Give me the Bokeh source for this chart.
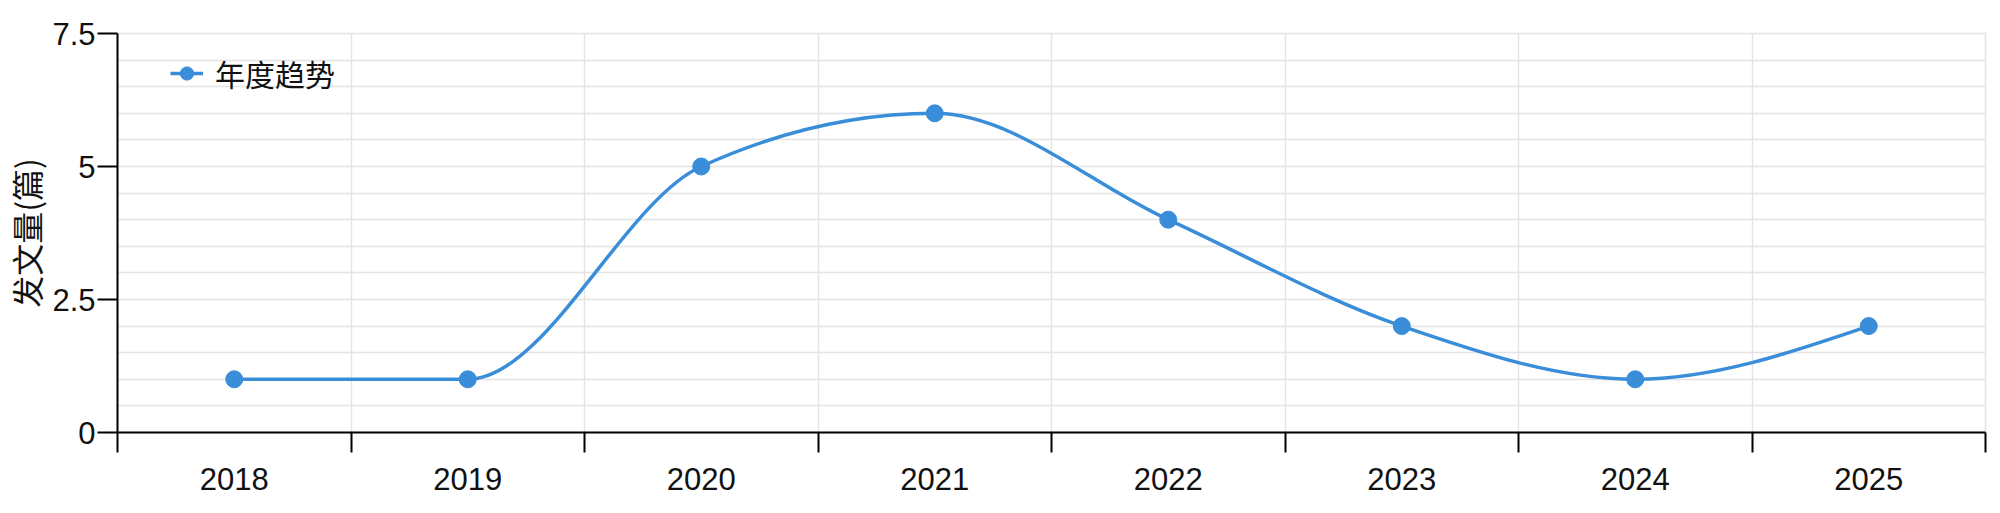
from bokeh.plotting import figure
from bokeh.models import Range1d, FixedTicker, Legend, LegendItem
from bokeh.embed import file_html
from bokeh.resources import INLINE
import numpy as np

# ---- data ----
years = ["2018", "2019", "2020", "2021", "2022", "2023", "2024", "2025"]
counts = [1, 1, 5, 6, 4, 2, 1, 2]
y_ticks = [0, 2.5, 5, 7.5]
series_name = "年度趋势"
y_label = "发文量(篇)"

LINE_COLOR = "#3a8dd8"
GRID_COLOR = "#e4e4e4"

n = len(years)
xs = np.arange(n) + 0.5
ys = np.array(counts, dtype=float)

# monotone-x cubic (as d3.curveMonotoneX) -> bezier segments
def sign(v):
    return -1.0 if v < 0 else 1.0

t = np.zeros(n)
for i in range(1, n - 1):
    h0 = xs[i] - xs[i - 1]
    h1 = xs[i + 1] - xs[i]
    s0 = (ys[i] - ys[i - 1]) / h0
    s1 = (ys[i + 1] - ys[i]) / h1
    pp = (s0 * h1 + s1 * h0) / (h0 + h1)
    t[i] = (sign(s0) + sign(s1)) * min(abs(s0), abs(s1), 0.5 * abs(pp))
h = xs[1] - xs[0]
t[0] = (3 * (ys[1] - ys[0]) / h - t[1]) / 2
h = xs[-1] - xs[-2]
t[-1] = (3 * (ys[-1] - ys[-2]) / h - t[-2]) / 2

x0 = xs[:-1]; x1 = xs[1:]; y0 = ys[:-1]; y1 = ys[1:]
dx = (x1 - x0) / 3
cx0 = x0 + dx; cy0 = y0 + dx * t[:-1]
cx1 = x1 - dx; cy1 = y1 - dx * t[1:]

p = figure(width=2000, height=513, output_backend="svg", toolbar_location=None,
           x_range=Range1d(0, n), y_range=Range1d(0, 7.5),
           min_border_left=117, min_border_right=15, min_border_top=33, min_border_bottom=81)
p.background_fill_color = "white"
p.border_fill_color = "white"
p.outline_line_color = GRID_COLOR
p.outline_line_width = 1.5

bz = p.bezier(x0=x0, y0=y0, x1=x1, y1=y1, cx0=cx0, cy0=cy0, cx1=cx1, cy1=cy1,
              line_color=LINE_COLOR, line_width=3.5)
sc = p.scatter(xs, ys, size=17, fill_color=LINE_COLOR, line_color=LINE_COLOR)

# x axis: labels at band centers, ticks at band boundaries
p.xaxis.ticker = FixedTicker(ticks=list(xs), minor_ticks=list(range(n + 1)))
p.xaxis.major_label_overrides = {float(x): yv for x, yv in zip(xs, years)}
p.xaxis.major_tick_out = 0
p.xaxis.major_tick_in = 0
p.xaxis.minor_tick_out = 20
p.xaxis.minor_tick_in = 0
p.xaxis.minor_tick_line_color = "black"
p.xaxis.minor_tick_line_width = 2
p.xaxis.axis_line_color = "black"
p.xaxis.axis_line_width = 2
p.xaxis.major_label_text_font = "Liberation Sans"
p.xaxis.major_label_text_font_size = "31px"
p.xaxis.major_label_text_color = "#111111"
p.xaxis.major_label_standoff = 15

p.yaxis.ticker = FixedTicker(ticks=y_ticks)
p.yaxis.major_label_overrides = {0: "0", 2.5: "2.5", 5: "5", 7.5: "7.5"}
p.yaxis.major_tick_out = 20
p.yaxis.major_tick_in = 0
p.yaxis.major_tick_line_color = "black"
p.yaxis.major_tick_line_width = 2
p.yaxis.minor_tick_out = 0
p.yaxis.minor_tick_in = 0
p.yaxis.axis_line_color = "black"
p.yaxis.axis_line_width = 2
p.yaxis.major_label_text_font = "Liberation Sans"
p.yaxis.major_label_text_font_size = "31px"
p.yaxis.major_label_text_color = "#111111"
p.yaxis.major_label_standoff = 2
p.yaxis.axis_label = y_label
p.yaxis.axis_label_text_font = "Noto Sans CJK SC"
p.yaxis.axis_label_text_font_size = "32px"
p.yaxis.axis_label_text_font_style = "normal"
p.yaxis.axis_label_text_color = "#111111"
p.yaxis.axis_label_standoff = 0

p.xgrid.ticker = FixedTicker(ticks=list(range(n + 1)))
p.ygrid.ticker = FixedTicker(ticks=list(np.arange(0, 7.51, 0.5)))
p.xgrid.grid_line_color = GRID_COLOR
p.ygrid.grid_line_color = GRID_COLOR
p.xgrid.grid_line_width = 1.5
p.ygrid.grid_line_width = 1.5

legend = Legend(items=[LegendItem(label=series_name, renderers=[bz, sc])],
                location=(53, 337), orientation="vertical")
legend.background_fill_alpha = 0
legend.border_line_alpha = 0
legend.padding = 0
legend.margin = 0
legend.glyph_width = 33
legend.glyph_height = 36
legend.label_standoff = 12
legend.label_text_font = "Noto Sans CJK SC"
legend.label_text_font_size = "30px"
legend.label_text_color = "#111111"
p.add_layout(legend)

open("out.html", "w").write(file_html(p, INLINE))
